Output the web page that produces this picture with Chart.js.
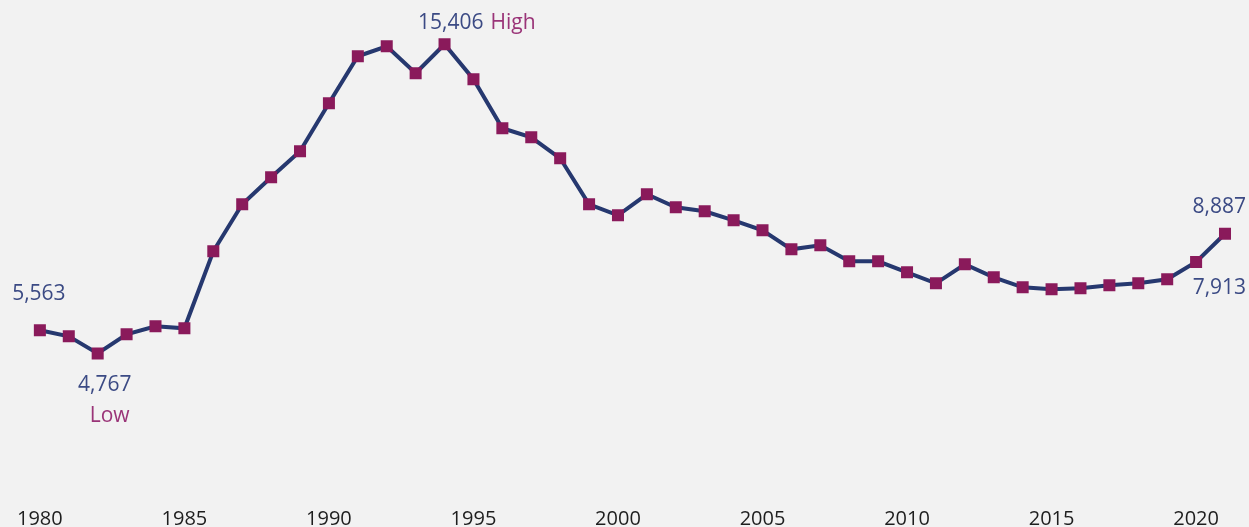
<!DOCTYPE html>
<html>
<head>
<meta charset="utf-8">
<script src="https://cdn.jsdelivr.net/npm/chart.js@4.4.0/dist/chart.umd.min.js"></script>
<style>
  html, body { margin: 0; padding: 0; background: #f2f2f2; }
  #wrap { width: 1249px; height: 527px; position: relative; }
</style>
</head>
<body>
<div id="wrap"><canvas id="c" width="1249" height="527"></canvas></div>
<script>
const years = [];
for (let y = 1980; y <= 2021; y++) years.push(String(y));

const values = [
  5563, 5357, 4767, 5425, 5701, 5632, 8282, 9900, 10829, 11724,
  13376, 14994, 15338, 14409, 15406, 14202, 12516, 12206, 11483, 9900,
  9521, 10244, 9797, 9659, 9349, 9005, 8351, 8489, 7938, 7938,
  7559, 7181, 7835, 7387, 7043, 6974, 7009, 7112, 7181, 7318,
  7913, 8887
];

const tickYears = ['1980','1985','1990','1995','2000','2005','2010','2015','2020'];

// annotations: [index, text, colour-key, align, dx, dy]
const annotations = [
  [0,  '5,563',  'num',  'center', -1, -36],
  [2,  '4,767',  'num',  'center', 7, 32],
  [2,  'Low',    'word', 'center', 12, 63],
  [14, '15,406', 'num',  'right', 39, -21],
  [14, 'High',   'word', 'left', 46, -21],
  [41, '8,887',  'num',  'right', 21, -27],
  [40, '7,913',  'num',  'right', 50, 26]
];

const colours = { num: '#3b4a84', word: '#9a3478' };

const bgPlugin = {
  id: 'bg',
  beforeDraw(chart) {
    const ctx = chart.ctx;
    ctx.save();
    ctx.fillStyle = '#f2f2f2';
    ctx.fillRect(0, 0, chart.width, chart.height);
    ctx.restore();
  }
};

const labelPlugin = {
  id: 'labels',
  afterDatasetsDraw(chart) {
    const ctx = chart.ctx;
    const meta = chart.getDatasetMeta(0);
    ctx.save();
    ctx.font = '21px "Open Sans", sans-serif';
    ctx.textBaseline = 'middle';
    annotations.forEach(([i, text, ck, align, dx, dy]) => {
      const pt = meta.data[i];
      ctx.fillStyle = colours[ck];
      ctx.textAlign = align;
      ctx.fillText(text, pt.x + dx, pt.y + dy);
    });
    ctx.restore();
  }
};

new Chart(document.getElementById('c'), {
  type: 'line',
  data: {
    labels: years,
    datasets: [{
      data: values,
      borderColor: '#26386f',
      borderWidth: 4,
      pointStyle: 'rect',
      pointRadius: 8.5,
      pointHoverRadius: 8.5,
      pointBackgroundColor: '#8a1a5b',
      pointBorderColor: '#8a1a5b',
      pointBorderWidth: 0,
      tension: 0
    }]
  },
  options: {
    responsive: false,
    animation: false,
    layout: { padding: { left: 39, right: 24, top: 27, bottom: -19 } },
    plugins: { legend: { display: false }, tooltip: { enabled: false } },
    scales: {
      x: {
        type: 'category',
        offset: false,
        grid: { display: false, drawTicks: false },
        border: { display: false },
        ticks: {
          autoSkip: false,
          maxRotation: 0,
          padding: 17,
          color: '#1e1e1e',
          font: { family: '"Open Sans", sans-serif', size: 20, lineHeight: 1 },
          callback: function(v, i) {
            const lab = this.getLabelForValue(v);
            return tickYears.includes(lab) ? lab : '';
          }
        }
      },
      y: {
        display: false,
        min: 0,
        max: 16000
      }
    }
  },
  plugins: [bgPlugin, labelPlugin]
});
</script>
</body>
</html>
